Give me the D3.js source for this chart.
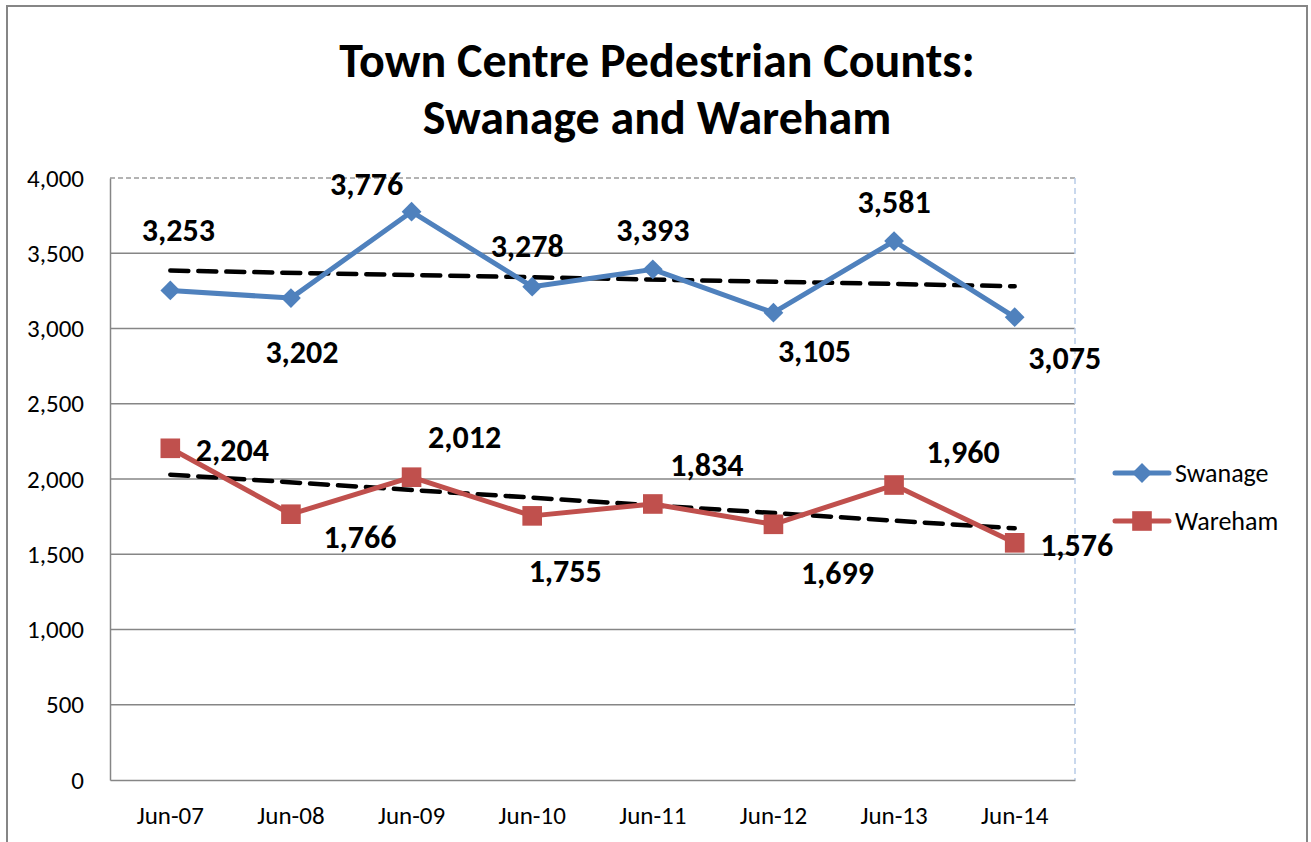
<!DOCTYPE html>
<html>
<head>
<meta charset="utf-8">
<script src="https://cdn.jsdelivr.net/npm/d3@7"></script>
<style>
  body { margin: 0; background: #fff; }
  svg { font-family: Carlito, Calibri, Lato, sans-serif; }
</style>
</head>
<body>
<svg id="chart" width="1311" height="842"></svg>
<script>
// chart data
const months = ["Jun-07", "Jun-08", "Jun-09", "Jun-10", "Jun-11", "Jun-12", "Jun-13", "Jun-14"];
const swanage = [3253, 3202, 3776, 3278, 3393, 3105, 3581, 3075];
const wareham = [2204, 1766, 2012, 1755, 1834, 1699, 1960, 1576];
// linear trend lines, start and end values
const swanageTrend = [3385, 3281];
const warehamTrend = [2029, 1672];
const yTicks = [0, 500, 1000, 1500, 2000, 2500, 3000, 3500, 4000];

// label offsets from each point (Excel placed these by hand)
const swanageLabelOff = [[8, -60], [11, 54], [-45, -27], [-5, -40], [0, -39], [41, 39], [0, -39], [50, 41]];
const warehamLabelOff = [[62, 2], [69, 23], [53, -40], [33, 56], [54, -38], [64, 49], [69, -33], [62, 3]];

const blue = "#4f81bd", red = "#c0504d";
const plotL = 110, plotR = 1075, plotT = 178, plotB = 780;

const svg = d3.select("#chart");

// outer chart border
svg.append("rect")
  .attr("x", 7).attr("y", 6).attr("width", 1300).attr("height", 850)
  .attr("fill", "none").attr("stroke", "#868686").attr("stroke-width", 2);

const x = d3.scaleBand().domain(months).range([plotL, plotR]);
const y = d3.scaleLinear().domain([0, 4000]).range([plotB, plotT]);
const cx = d => x(d) + x.bandwidth() / 2;

// gridlines
svg.append("g")
  .selectAll("line")
  .data(yTicks.filter(t => t > 0 && t < 4000))
  .join("line")
  .attr("x1", plotL).attr("x2", plotR)
  .attr("y1", d => y(d)).attr("y2", d => y(d))
  .attr("stroke", "#868686").attr("stroke-width", 1.5);

// plot area top/right edges (dashed)
svg.append("line")
  .attr("x1", plotL).attr("x2", plotR).attr("y1", y(4000)).attr("y2", y(4000))
  .attr("stroke", "#9a9a9a").attr("stroke-width", 1.5).attr("stroke-dasharray", "5,3");
svg.append("line")
  .attr("x1", plotR).attr("x2", plotR).attr("y1", plotT).attr("y2", plotB)
  .attr("stroke", "#b8cbe8").attr("stroke-width", 1.5).attr("stroke-dasharray", "6,4");

// axes
const yAxis = svg.append("g")
  .attr("transform", `translate(${plotL},0)`)
  .call(d3.axisLeft(y).tickValues(yTicks).tickFormat(d3.format(",")).tickSize(0).tickPadding(26));
yAxis.select(".domain").attr("stroke", "#868686").attr("stroke-width", 1.5);
yAxis.selectAll("text").style("font-size", "25px").style("font-family", "Carlito, Calibri, Lato, sans-serif").attr("fill", "#000");

const xAxis = svg.append("g")
  .attr("transform", `translate(0,${plotB})`)
  .call(d3.axisBottom(x).tickSize(0).tickPadding(26));
xAxis.select(".domain").attr("stroke", "#868686").attr("stroke-width", 1.5);
xAxis.selectAll("text").style("font-size", "25px").style("font-family", "Carlito, Calibri, Lato, sans-serif").attr("fill", "#000");

// trend lines
function trend(vals) {
  svg.append("line")
    .attr("x1", cx(months[0])).attr("y1", y(vals[0]))
    .attr("x2", cx(months[months.length - 1])).attr("y2", y(vals[1]))
    .attr("stroke", "#000").attr("stroke-width", 4.5)
    .attr("stroke-dasharray", "18,10").attr("stroke-linecap", "round");
}
trend(swanageTrend);
trend(warehamTrend);

const line = d3.line().x((d, i) => cx(months[i])).y(d => y(d));

function series(vals, color, symbol, size) {
  svg.append("path")
    .datum(vals)
    .attr("d", line)
    .attr("fill", "none")
    .attr("stroke", color)
    .attr("stroke-width", 5)
    .attr("stroke-linejoin", "round");
  svg.append("g")
    .selectAll("path")
    .data(vals)
    .join("path")
    .attr("transform", (d, i) => `translate(${cx(months[i])},${y(d)})`)
    .attr("d", d3.symbol(symbol, size))
    .attr("fill", color);
}
series(swanage, blue, d3.symbolDiamond2, 250);
series(wareham, red, d3.symbolSquare2, 490);

function labels(vals, offs) {
  svg.append("g")
    .selectAll("text")
    .data(vals)
    .join("text")
    .attr("x", (d, i) => cx(months[i]) + offs[i][0])
    .attr("y", (d, i) => y(d) + offs[i][1])
    .attr("text-anchor", "middle")
    .attr("dominant-baseline", "central")
    .attr("font-size", 32)
    .attr("font-weight", "bold")
    .text(d => d3.format(",")(d));
}
labels(swanage, swanageLabelOff);
labels(wareham, warehamLabelOff);

// title
svg.append("text")
  .attr("x", 657).attr("y", 60)
  .attr("text-anchor", "middle").attr("dominant-baseline", "central")
  .attr("font-size", 48).attr("font-weight", "bold")
  .text("Town Centre Pedestrian Counts:");
svg.append("text")
  .attr("x", 657).attr("y", 117)
  .attr("text-anchor", "middle").attr("dominant-baseline", "central")
  .attr("font-size", 48).attr("font-weight", "bold")
  .text("Swanage and Wareham");

// legend
const legend = svg.append("g").attr("transform", "translate(1115,473)");
[["Swanage", blue, d3.symbolDiamond2, 250], ["Wareham", red, d3.symbolSquare2, 490]].forEach((s, i) => {
  const g = legend.append("g").attr("transform", `translate(0,${i * 48})`);
  g.append("line").attr("x1", 0).attr("x2", 54).attr("stroke", s[1]).attr("stroke-width", 5)
    .attr("stroke-linecap", "round");
  g.append("path").attr("transform", "translate(27,0)").attr("d", d3.symbol(s[2], s[3])).attr("fill", s[1]);
  g.append("text").attr("x", 60).attr("dominant-baseline", "central")
    .attr("font-size", 26).text(s[0]);
});
</script>
</body>
</html>
